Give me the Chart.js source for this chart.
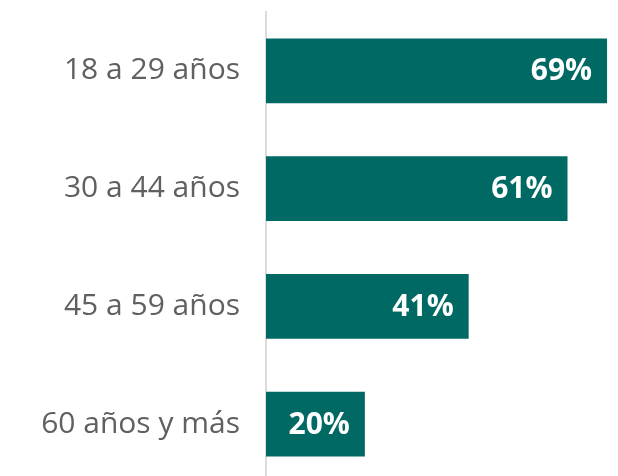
<!DOCTYPE html>
<html>
<head>
<meta charset="utf-8">
<script src="https://cdn.jsdelivr.net/npm/chart.js@4/dist/chart.umd.min.js"></script>
<style>
  html, body { margin: 0; padding: 0; background: #fff; overflow: hidden; }
  canvas { display: block; }
</style>
</head>
<body>
<canvas id="edadChart" width="618" height="483"></canvas>
<script>
const categories = ['18 a 29 años', '30 a 44 años', '45 a 59 años', '60 años y más'];
const values = [69, 61, 41, 20];

// draws the white percentage inside the end of each bar
const barValueLabels = {
  id: 'barValueLabels',
  afterDatasetsDraw(chart) {
    const ctx = chart.ctx;
    const meta = chart.getDatasetMeta(0);
    ctx.save();
    ctx.font = 'bold 30px "Open Sans", sans-serif';
    ctx.fillStyle = '#ffffff';
    ctx.textAlign = 'right';
    ctx.textBaseline = 'middle';
    meta.data.forEach((bar, i) => {
      ctx.fillText(values[i] + '%', bar.x - 15, bar.y + 1);
    });
    ctx.restore();
  }
};

new Chart(document.getElementById('edadChart'), {
  type: 'bar',
  data: {
    labels: categories,
    datasets: [{
      data: values,
      backgroundColor: '#006963',
      barPercentage: 0.55,
      categoryPercentage: 1
    }]
  },
  options: {
    indexAxis: 'y',
    responsive: false,
    animation: false,
    layout: { padding: { top: 12, right: 6, bottom: 0, left: 0 } },
    plugins: { legend: { display: false }, tooltip: { enabled: false } },
    scales: {
      x: { display: false, min: 0, max: 70 },
      y: {
        grid: { display: false, drawTicks: false },
        border: { display: true, color: '#dcdcdc', width: 2 },
        ticks: {
          color: '#606060',
          padding: 26,
          font: { family: '"Open Sans", sans-serif', size: 30 }
        },
        afterFit(scale) {
          scale.width = 266;
          // labels sit inside their categories, no extra room needed above/below
          scale.paddingTop = 0;
          scale.paddingBottom = 0;
        }
      }
    }
  },
  plugins: [barValueLabels]
});
</script>
</body>
</html>
